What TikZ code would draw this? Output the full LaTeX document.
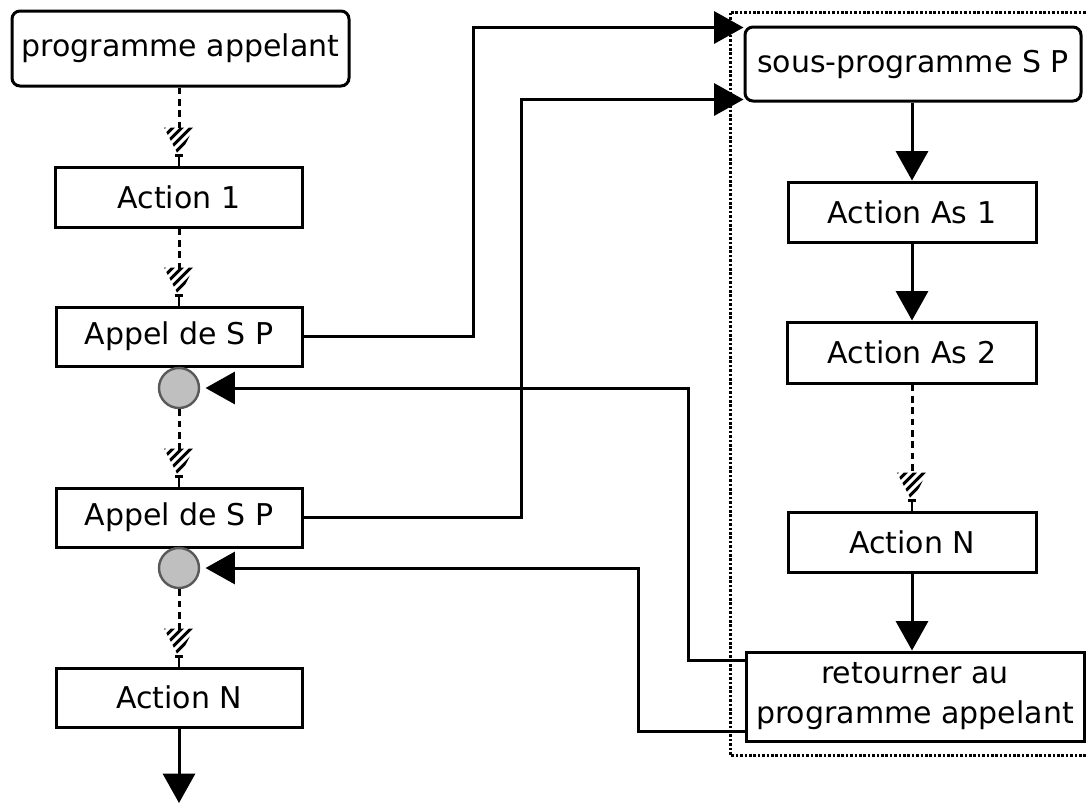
\documentclass[tikz,border=0pt]{standalone}
\usepackage{fontspec}
\setmainfont{DejaVu Sans}
\usetikzlibrary{arrows.meta,calc}

% hatched arrow head used at the end of the dashed (optional) links
\tikzset{
  hatchtip/.pic={
    \begin{scope}
      \clip (-15,-38) -- (15,-38) -- (0,-9) -- cycle;
      \foreach \d in {-42,-33,...,24}
        \draw[line width=2.2pt] (\d-22,2) -- (\d+22,-42);
    \end{scope}
    \draw[line width=2pt] (0,-11) -- (0,0);
    \draw[line width=2pt] (-4,-10) -- (4,-10);
  }
}

\begin{document}
\begin{tikzpicture}[x=0.75pt,y=-0.75pt,
  every node/.style={font=\fontsize{22.5}{30}\selectfont},
  box/.style={draw,line width=2.25pt,rectangle,inner sep=0pt,align=center},
  rbox/.style={box,rounded corners=6pt},
  hub/.style={circle,draw=black!65,fill=black!25,line width=1.8pt,minimum size=30pt,inner sep=0pt},
  flow/.style={line width=2.25pt},
  dflow/.style={line width=2.25pt,dash pattern=on 5pt off 3.5pt},
  tip/.style={-{Triangle[length=22pt,width=24pt]}},
  frame/.style={line width=2.25pt,dash pattern=on 2pt off 1.3pt}
]
\useasboundingbox (0,0) rectangle (1086,804);

% ---- calling program (left column)
\node[rbox,minimum width=252.75pt,minimum height=56.25pt] (pa) at (180.5,48.5) {programme appelant};
\node[box,minimum width=185.25pt,minimum height=45pt] (a1) at (179,197) {Action 1};
\node[box,minimum width=184.5pt,minimum height=44.25pt] (ap1) at (179,336.5) {Appel de S P};
\node[hub] (c1) at (179,388) {};
\node[box,minimum width=184.5pt,minimum height=44.25pt] (ap2) at (179,517.5) {Appel de S P};
\node[hub] (c2) at (179,568) {};
\node[box,minimum width=184.5pt,minimum height=44.25pt] (aN) at (179,697.5) {Action N};
\coordinate (out) at (179,803);

% ---- subprogram (right column)
\draw[frame] (1090,12) -- (730,12) -- (730,755) -- (1090,755);
\node[rbox,minimum width=252pt,minimum height=55.5pt] (sp) at (913,64) {sous-programme S P};
\node[box,minimum width=186pt,minimum height=45pt] (as1) at (912,212) {Action As 1};
\node[box,minimum width=186.75pt,minimum height=45.75pt] (as2) at (912,352.5) {Action As 2};
\node[box,minimum width=186pt,minimum height=45pt] (an) at (912,542) {Action N};
\node[box,minimum width=253.5pt,minimum height=66.75pt] (ret) at (915,696.5) {retourner au\\programme appelant};

% ---- sequence in the calling program
\draw[dflow] (pa.south -| a1.north) -- ($(a1.north)+(0,-36)$);
\pic at (a1.north) {hatchtip};
\draw[dflow] (a1.south) -- ($(ap1.north)+(0,-36)$);
\pic at (ap1.north) {hatchtip};
\draw[dflow] (c1.south) -- ($(ap2.north)+(0,-36)$);
\pic at (ap2.north) {hatchtip};
\draw[dflow] (c2.south) -- ($(aN.north)+(0,-36)$);
\pic at (aN.north) {hatchtip};
\draw[flow,tip] (aN.south) -- (out);

% ---- sequence in the subprogram
\draw[flow,tip] (sp.south -| as1.north) -- (as1.north);
\draw[flow,tip] (as1.south) -- (as2.north);
\draw[dflow] (as2.south) -- ($(an.north)+(0,-36)$);
\pic at (an.north) {hatchtip};
\draw[flow,tip] (an.south) -- (an.south |- ret.north);

% ---- calls
\draw[flow,tip] (ap1.east) -- ++(170,0) |- ($(sp.north west)+(0,2)$);
\draw[flow,tip] (ap2.east) -- ++(218,0) |- ($(sp.south west)+(0,-3)$);

% ---- returns
\draw[flow,tip,shorten >=4pt] ($(ret.north west)+(0,10)$) -- ++(-56,0) |- (c1.east);
\draw[flow,tip,shorten >=4pt] ($(ret.south west)+(0,-11)$) -- ++(-106,0) |- (c2.east);
\end{tikzpicture}
\end{document}
